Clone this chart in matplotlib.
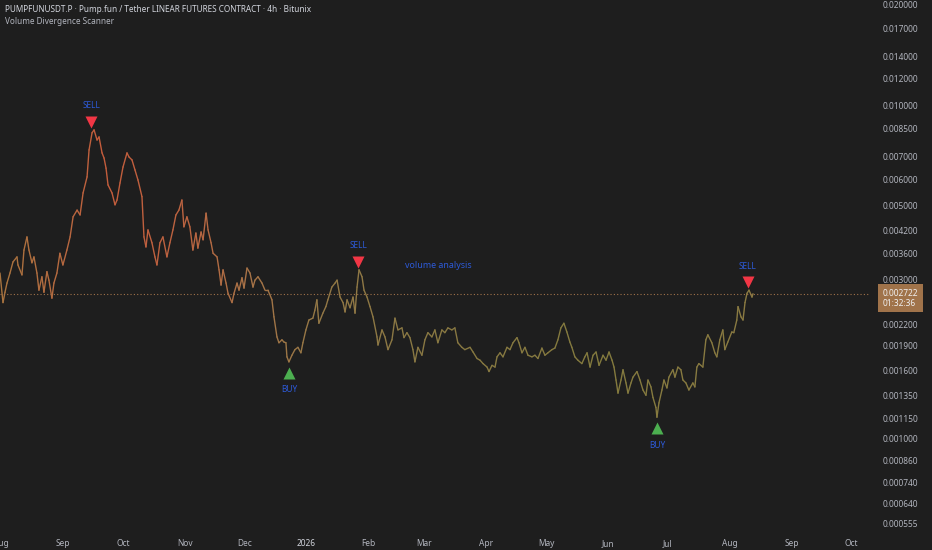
import matplotlib
matplotlib.use('Agg')
import matplotlib.pyplot as plt
import matplotlib.dates as mdates
import matplotlib.transforms as mtransforms
from matplotlib.collections import LineCollection
from matplotlib.colors import LinearSegmentedColormap
import numpy as np
import pandas as pd

# PUMPFUNUSDT.P closes, days after 1 Aug 2025
start = pd.Timestamp('2025-08-01')
day_offset = [
    -0.5, 1.0, 2.0, 3.0, 4.5, 6.0, 8.0, 8.5, 10.5, 11.5,
    13.0, 14.0, 15.5, 16.5, 18.0, 19.0, 20.5, 21.5, 23.0, 24.0,
    25.5, 26.5, 28.0, 29.5, 31.0, 33.0, 34.6, 36.1, 38.1, 39.6,
    41.1, 43.1, 44.1, 45.6, 46.6, 48.1, 49.1, 50.6, 51.6, 52.6,
    53.6, 55.6, 57.1, 58.1, 59.6, 61.1, 63.1, 64.1, 65.6, 67.1,
    68.6, 70.6, 71.6, 72.6, 73.6, 75.6, 77.1, 78.1, 79.6, 81.1,
    83.1, 84.6, 86.1, 87.6, 89.1, 90.6, 91.6, 93.1, 94.6, 96.1,
    97.6, 98.6, 100.2, 101.2, 102.7, 103.7, 105.2, 106.2, 108.2, 109.2,
    110.2, 111.2, 112.7, 113.7, 115.7, 116.7, 118.2, 119.2, 120.7, 121.7,
    123.2, 124.7, 126.2, 127.2, 128.7, 130.7, 132.2, 133.7, 135.7, 136.7,
    138.2, 139.2, 140.7, 141.7, 142.7, 143.2, 144.2, 145.7, 147.2, 148.7,
    150.2, 151.2, 152.7, 154.2, 156.2, 157.2, 158.2, 159.2, 161.2, 162.7,
    163.7, 165.7, 167.3, 168.3, 169.8, 171.3, 172.3, 173.3, 174.8, 176.3,
    177.3, 178.3, 179.3, 180.8, 181.8, 183.3, 184.8, 186.3, 188.3, 188.8,
    190.8, 192.3, 193.8, 195.8, 197.3, 198.8, 200.8, 201.8, 203.3, 204.8,
    206.3, 207.3, 208.8, 210.8, 212.3, 213.8, 215.8, 217.3, 218.8, 220.8,
    222.3, 223.8, 225.8, 227.3, 228.8, 230.8, 232.3, 234.9, 236.4, 238.4,
    239.9, 241.4, 243.4, 244.4, 245.9, 247.4, 248.4, 249.9, 251.4, 253.4,
    254.9, 256.4, 258.4, 259.4, 260.9, 262.4, 263.9, 265.9, 267.4, 268.9,
    270.9, 272.4, 273.9, 275.9, 277.4, 278.9, 280.4, 281.9, 283.4, 284.9,
    285.9, 287.4, 288.9, 290.9, 292.4, 293.5, 295.0, 296.5, 298.0, 299.5,
    301.5, 303.0, 304.5, 306.0, 307.0, 308.0, 309.0, 310.5, 311.5, 313.0,
    314.0, 315.5, 316.5, 318.5, 320.0, 321.5, 323.0, 324.0, 325.5, 326.5,
    328.0, 328.5, 329.5, 331.0, 332.0, 333.5, 334.5, 336.5, 337.5, 339.0,
    340.5, 341.5, 343.0, 344.5, 346.5, 347.5, 348.5, 349.5, 351.5, 353.0,
    354.0, 356.0, 357.5, 358.5, 360.0, 361.5, 362.5, 364.0, 366.0, 367.0,
    368.5, 369.1, 370.6, 371.6, 372.6, 373.6, 374.6, 376.1, 376.6,
]
price = [
    0.00314, 0.00256, 0.00275, 0.00293, 0.00314, 0.00339, 0.00351, 0.00332, 0.00310, 0.00368,
    0.00403, 0.00368, 0.00337, 0.00351, 0.00314, 0.00279, 0.00306, 0.00275, 0.00317, 0.00299,
    0.00264, 0.00293, 0.00314, 0.00360, 0.00332, 0.00368, 0.00403, 0.00463, 0.00485, 0.00469,
    0.00546, 0.00610, 0.00735, 0.00827, 0.00844, 0.00787, 0.00804, 0.00720, 0.00695, 0.00648,
    0.00577, 0.00546, 0.00503, 0.00520, 0.00585, 0.00653, 0.00720, 0.00700, 0.00686, 0.00640,
    0.00597, 0.00532, 0.00403, 0.00376, 0.00423, 0.00387, 0.00351, 0.00332, 0.00387, 0.00403,
    0.00351, 0.00387, 0.00423, 0.00469, 0.00485, 0.00520, 0.00432, 0.00463, 0.00432, 0.00368,
    0.00414, 0.00373, 0.00417, 0.00395, 0.00475, 0.00423, 0.00387, 0.00360, 0.00351, 0.00321,
    0.00289, 0.00321, 0.00293, 0.00273, 0.00256, 0.00273, 0.00293, 0.00279, 0.00304, 0.00283,
    0.00325, 0.00314, 0.00285, 0.00299, 0.00306, 0.00293, 0.00279, 0.00279, 0.00261, 0.00232,
    0.00202, 0.00194, 0.00198, 0.00195, 0.00194, 0.00176, 0.00170, 0.00178, 0.00185, 0.00188,
    0.00181, 0.00194, 0.00212, 0.00227, 0.00230, 0.00243, 0.00261, 0.00222, 0.00238, 0.00249,
    0.00261, 0.00285, 0.00293, 0.00299, 0.00266, 0.00256, 0.00240, 0.00261, 0.00247, 0.00266,
    0.00238, 0.00285, 0.00321, 0.00306, 0.00279, 0.00266, 0.00249, 0.00232, 0.00202, 0.00191,
    0.00212, 0.00202, 0.00185, 0.00198, 0.00230, 0.00212, 0.00215, 0.00201, 0.00208, 0.00201,
    0.00185, 0.00170, 0.00188, 0.00178, 0.00198, 0.00208, 0.00202, 0.00212, 0.00194, 0.00212,
    0.00208, 0.00215, 0.00212, 0.00215, 0.00194, 0.00188, 0.00185, 0.00188, 0.00182, 0.00174,
    0.00172, 0.00168, 0.00164, 0.00159, 0.00166, 0.00164, 0.00176, 0.00181, 0.00176, 0.00188,
    0.00185, 0.00194, 0.00201, 0.00194, 0.00181, 0.00188, 0.00178, 0.00176, 0.00178, 0.00174,
    0.00187, 0.00178, 0.00181, 0.00185, 0.00187, 0.00198, 0.00215, 0.00222, 0.00209, 0.00195,
    0.00188, 0.00176, 0.00172, 0.00168, 0.00176, 0.00181, 0.00164, 0.00178, 0.00182, 0.00166,
    0.00178, 0.00172, 0.00182, 0.00172, 0.00164, 0.00150, 0.00137, 0.00150, 0.00161, 0.00147,
    0.00137, 0.00147, 0.00153, 0.00159, 0.00150, 0.00140, 0.00135, 0.00150, 0.00143, 0.00133,
    0.00124, 0.00116, 0.00128, 0.00140, 0.00150, 0.00142, 0.00153, 0.00161, 0.00153, 0.00164,
    0.00161, 0.00150, 0.00147, 0.00140, 0.00147, 0.00143, 0.00164, 0.00168, 0.00164, 0.00198,
    0.00205, 0.00194, 0.00181, 0.00176, 0.00198, 0.00212, 0.00185, 0.00195, 0.00209, 0.00208,
    0.00227, 0.00249, 0.00232, 0.00227, 0.00256, 0.00273, 0.00279, 0.00266, 0.002722,
]

last_price = 0.002722
countdown = '01:32:36'

# divergence signals
sell_day = [45.1, 178.8, 374.1]
sell_price = [0.00844, 0.00321, 0.00279]
buy_day = [144.2, 328.5]
buy_price = [0.00170, 0.00116]

note_day = 202.3
note_price = 0.0033
note_text = 'volume analysis'

ytick_values = [0.020000, 0.017000, 0.014000, 0.012000, 0.010000, 0.008500,
                0.007000, 0.006000, 0.005000, 0.004200, 0.003600, 0.003000,
                0.002200, 0.001900, 0.001600, 0.001350, 0.001150, 0.001000,
                0.000860, 0.000740, 0.000640, 0.000555]
month_ticks = ['2025-08-01', '2025-09-01', '2025-10-01', '2025-11-01', '2025-12-01',
               '2026-01-01', '2026-02-01', '2026-03-01', '2026-04-01', '2026-05-01',
               '2026-06-01', '2026-07-01', '2026-08-01', '2026-09-01', '2026-10-01']
month_labels = ['Aug', 'Sep', 'Oct', 'Nov', 'Dec', '2026', 'Feb', 'Mar', 'Apr',
                'May', 'Jun', 'Jul', 'Aug', 'Sep', 'Oct']

bg = '#1e1e1e'
txt = '#b2b5be'
blue = '#2d5ad8'
tan = '#a0734a'

plt.rcParams['font.family'] = ['Noto Sans', 'DejaVu Sans']

W, H = 932, 550
fig = plt.figure(figsize=(W / 100, H / 100), dpi=100, facecolor=bg)
ax = fig.add_axes([0, 18 / H, 870 / W, 532 / H], facecolor=bg)
for s in ax.spines.values():
    s.set_visible(False)

t0 = mdates.date2num(start.to_pydatetime())
x = t0 + np.array(day_offset)
y = np.array(price)

# line colour drifts from red-orange at the top to olive later on
cmap = LinearSegmentedColormap.from_list('pf', [
    (0.0, '#a8743f'), (0.09, '#b86840'), (0.13, '#c45c3c'), (0.25, '#bb6441'),
    (0.33, '#a77347'), (0.42, '#947846'), (0.55, '#897843'), (0.8, '#837a3e'),
    (1.0, '#8a7a42')])
pts = np.column_stack([x, y])
segs = np.stack([pts[:-1], pts[1:]], axis=1)
mid = (np.array(day_offset[:-1]) + np.array(day_offset[1:])) / 2
cols = cmap((mid - day_offset[0]) / (day_offset[-1] - day_offset[0]))
ax.add_collection(LineCollection(segs, colors=cols, linewidths=1.0, capstyle='round'))

ax.set_yscale('log')
ax.set_xlim(t0 - 0.5, t0 + 435.2)
ax.set_ylim(0.000525, 0.0207)

ax.axhline(last_price, color=tan, lw=0.8, ls=(0, (1, 2)))

# signal shapes
up = mtransforms.offset_copy(ax.transData, fig=fig, x=0, y=8, units='dots')
up_txt = mtransforms.offset_copy(ax.transData, fig=fig, x=0, y=24, units='dots')
dn = mtransforms.offset_copy(ax.transData, fig=fig, x=0, y=-11, units='dots')
dn_txt = mtransforms.offset_copy(ax.transData, fig=fig, x=0, y=-28, units='dots')
sx = t0 + np.array(sell_day)
bx = t0 + np.array(buy_day)
ax.plot(sx, sell_price, 'v', color='#f23645', ms=8.5, mec='none', transform=up)
ax.plot(bx, buy_price, '^', color='#4caf50', ms=8.5, mec='none', transform=dn)
for xi, yi in zip(sx, sell_price):
    ax.text(xi, yi, 'SELL', color=blue, fontsize=6, ha='center', va='center',
            transform=up_txt)
for xi, yi in zip(bx, buy_price):
    ax.text(xi, yi, 'BUY', color=blue, fontsize=6, ha='center', va='center',
            transform=dn_txt)
ax.text(t0 + note_day, note_price, note_text, color=blue, fontsize=6.4,
        ha='left', va='center')

# price scale
ax.yaxis.tick_right()
ax.yaxis.set_major_locator(matplotlib.ticker.FixedLocator(ytick_values))
ax.yaxis.set_minor_locator(matplotlib.ticker.NullLocator())
ax.set_yticklabels(['%.6f' % v for v in ytick_values])
ax.tick_params(axis='y', length=0, pad=9, labelsize=6, labelcolor=txt)

# time scale
ax.set_xticks([mdates.date2num(pd.Timestamp(d).to_pydatetime()) for d in month_ticks])
ax.set_xticklabels(month_labels)
ax.tick_params(axis='x', length=0, pad=5, labelsize=6, labelcolor=txt)
for lab in ax.get_xticklabels():
    if lab.get_text() == '2026':
        lab.set_fontweight('bold')
        lab.set_color('#d1d4dc')

# last price tag, first line sits on the price
tr = mtransforms.blended_transform_factory(ax.transAxes, ax.transData)
tag_tr = tr + mtransforms.ScaledTranslation(0, 5 / 100, fig.dpi_scale_trans)
ax.text(1 + 13 / 870, last_price, '%.6f\n%s' % (last_price, countdown), transform=tag_tr,
        fontsize=6, color='#f0f0f0', ha='left', va='top', linespacing=1.15,
        clip_on=False,
        bbox=dict(boxstyle='square,pad=0.55', fc=tan, ec='none'))

fig.text(5 / W, 1 - 10 / H,
         'PUMPFUNUSDT.P · Pump.fun / Tether LINEAR FUTURES CONTRACT · 4h · Bitunix',
         color='#d1d4dc', fontsize=5.9, fontweight='semibold', va='center', ha='left')
fig.text(5 / W, 1 - 22 / H, 'Volume Divergence Scanner', color=txt, fontsize=5.9,
         va='center', ha='left')

fig.savefig('out.png', dpi=100, facecolor=bg)
